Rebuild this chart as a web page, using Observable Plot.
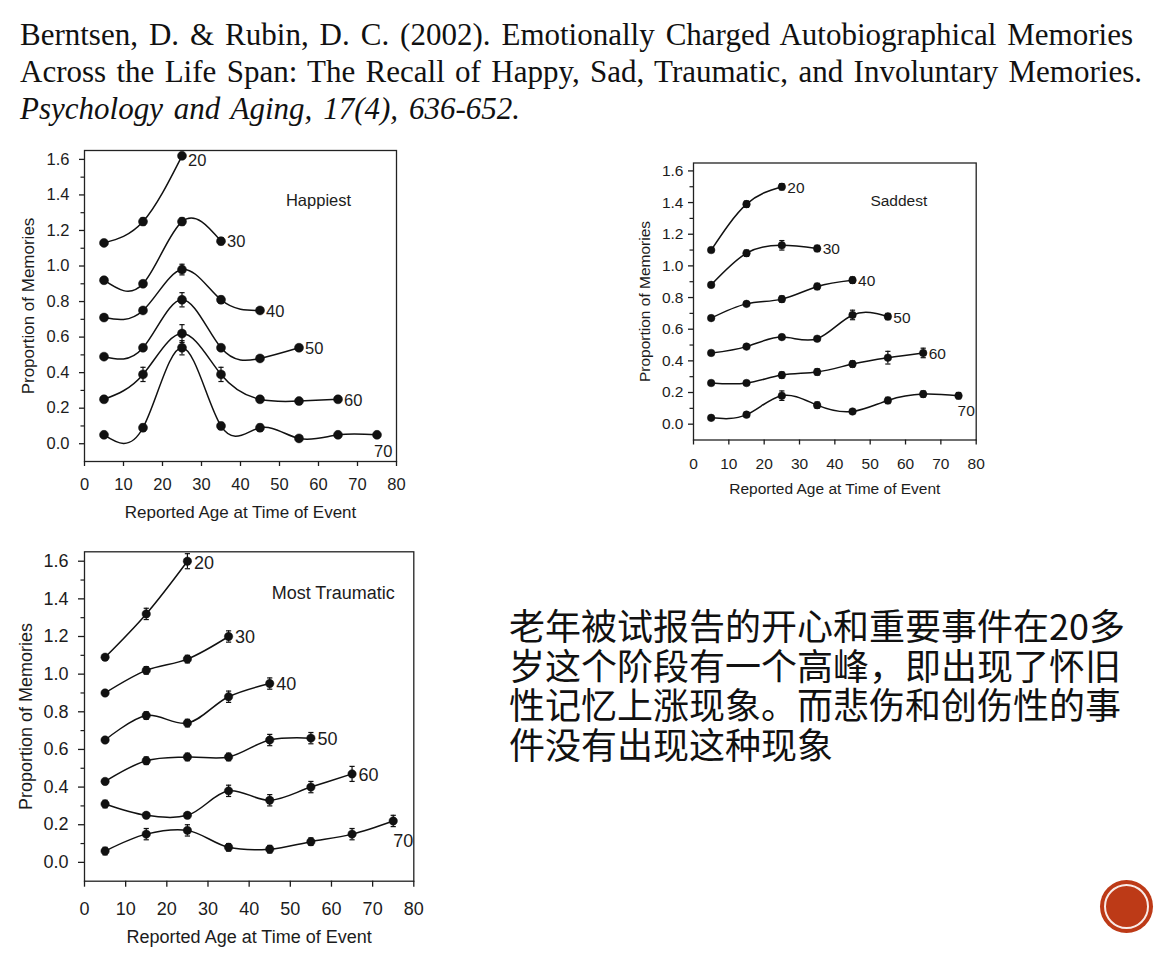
<!DOCTYPE html>
<html><head><meta charset="utf-8">
<script src="https://cdn.jsdelivr.net/npm/d3@7"></script>
<script src="https://cdn.jsdelivr.net/npm/@observablehq/plot@0.6"></script>
<style>
body{margin:0;background:#fff;}
#page{position:relative;width:1156px;height:960px;overflow:hidden;background:#fff;}
.ref{position:absolute;left:20px;font-family:"Liberation Serif","Times New Roman",serif;font-size:31px;line-height:37px;color:#111;white-space:nowrap;}
.cn{position:absolute;left:509px;font-family:"Noto Sans CJK SC",sans-serif;font-size:36px;line-height:39.5px;color:#111;white-space:nowrap;}
.panel{position:absolute;}
.panel svg{display:block;overflow:visible;}
#badge{position:absolute;left:1100px;top:880px;width:53px;height:53px;border-radius:50%;background:#bd3a17;}
#badge div{position:absolute;left:4px;top:4px;width:41px;height:41px;border-radius:50%;border:2px solid rgba(255,255,255,0.9);}
</style></head>
<body><div id="page">
<div class="ref" id="r1" style="top:16px">Berntsen, D. &amp; Rubin, D. C. (2002). Emotionally Charged Autobiographical Memories</div>
<div class="ref" id="r2" style="top:53px">Across the Life Span: The Recall of Happy, Sad, Traumatic, and Involuntary Memories.</div>
<div class="ref" id="r3" style="top:90px;font-style:italic">Psychology and Aging, 17(4), 636-652.</div>
<div class="panel" id="p1" style="left:0px;top:140px"></div>
<div class="panel" id="p2" style="left:620px;top:150px"></div>
<div class="panel" id="p3" style="left:0px;top:540px"></div>
<div class="cn" style="top:605px">老年被试报告的开心和重要事件在20多</div>
<div class="cn" style="top:644.5px">岁这个阶段有一个高峰，即出现了怀旧</div>
<div class="cn" style="top:684px">性记忆上涨现象。而悲伤和创伤性的事</div>
<div class="cn" style="top:723.5px">件没有出现这种现象</div>
<div id="badge"><div></div></div>
</div>
<script>
// ---- data ----
const ages = [5, 15, 25, 35, 45, 55, 65, 75];
const cohorts = ["20", "30", "40", "50", "60", "70"];
const xTicks = [0, 10, 20, 30, 40, 50, 60, 70, 80];
const yTicks = [0, 0.2, 0.4, 0.6, 0.8, 1.0, 1.2, 1.4, 1.6];
const yMinorTicks = [0.1, 0.3, 0.5, 0.7, 0.9, 1.1, 1.3, 1.5];

const happiestMeans = [
  [1.13, 1.25, 1.62],
  [0.92, 0.90, 1.25, 1.14],
  [0.71, 0.75, 0.98, 0.81, 0.75],
  [0.49, 0.54, 0.81, 0.54, 0.48, 0.54],
  [0.25, 0.39, 0.62, 0.39, 0.25, 0.24, 0.25],
  [0.05, 0.09, 0.54, 0.10, 0.09, 0.03, 0.05, 0.05]
];
const happiestErrors = [
  [0.01, 0.02, 0.01],
  [0.01, 0.01, 0.02, 0.02],
  [0.01, 0.01, 0.03, 0.02, 0.01],
  [0.01, 0.01, 0.04, 0.01, 0.01, 0.01],
  [0.01, 0.04, 0.05, 0.04, 0.01, 0.01, 0.01],
  [0.01, 0.02, 0.04, 0.02, 0.02, 0.01, 0.01, 0.01]
];
const saddestMeans = [
  [1.10, 1.39, 1.50],
  [0.88, 1.08, 1.13, 1.11],
  [0.67, 0.76, 0.79, 0.87, 0.91],
  [0.45, 0.49, 0.55, 0.54, 0.69, 0.68],
  [0.26, 0.26, 0.31, 0.33, 0.38, 0.42, 0.45],
  [0.04, 0.06, 0.18, 0.12, 0.08, 0.15, 0.19, 0.18]
];
const saddestErrors = [
  [0.01, 0.02, 0.02],
  [0.01, 0.02, 0.03, 0.02],
  [0.01, 0.01, 0.02, 0.02, 0.02],
  [0.01, 0.01, 0.01, 0.01, 0.03, 0.02],
  [0.01, 0.01, 0.02, 0.02, 0.02, 0.04, 0.03],
  [0.01, 0.01, 0.03, 0.02, 0.01, 0.02, 0.02, 0.02]
];
const traumaticMeans = [
  [1.09, 1.32, 1.60],
  [0.90, 1.02, 1.08, 1.20],
  [0.65, 0.78, 0.74, 0.88, 0.95],
  [0.43, 0.54, 0.56, 0.56, 0.65, 0.66],
  [0.31, 0.25, 0.25, 0.38, 0.33, 0.40, 0.47],
  [0.06, 0.15, 0.17, 0.08, 0.07, 0.11, 0.15, 0.22]
];
const traumaticErrors = [
  [0.01, 0.03, 0.04],
  [0.01, 0.02, 0.02, 0.03],
  [0.01, 0.02, 0.02, 0.03, 0.03],
  [0.01, 0.02, 0.02, 0.02, 0.03, 0.03],
  [0.02, 0.01, 0.01, 0.03, 0.03, 0.03, 0.04],
  [0.02, 0.03, 0.03, 0.02, 0.02, 0.02, 0.03, 0.03]
];
const yLabel = "Proportion of Memories";
const xLabel = "Reported Age at Time of Event";

// ---- layout ----
function makePanel(title, means, errors, L) {
  const rows = [];
  means.forEach((vals, i) => vals.forEach((v, j) =>
    rows.push({cohort: cohorts[i], age: ages[j], y: v, e: errors[i][j]})));
  const last = cohorts.map(c => rows.filter(r => r.cohort === c).at(-1));
  const capW = 2.6 * 80 / (L.w - L.ml - L.mr);
  const ink = "#111";
  return Plot.plot({
    width: L.w, height: L.h,
    marginLeft: L.ml, marginRight: L.mr, marginTop: L.mt, marginBottom: L.mb,
    x: {domain: [0, 80]},
    y: {domain: [-0.1, 1.65]},
    style: {fontFamily: "'Liberation Sans', Arial, sans-serif", fontSize: L.fs + "px", color: "#1c1c1c", background: "transparent", overflow: "visible"},
    marks: [
      Plot.frame({stroke: "#222", strokeWidth: 1.3}),
      Plot.axisX({ticks: xTicks, tickSize: L.ts, tickPadding: L.xpad, tickFormat: d => String(d), label: null, strokeWidth: 1.3}),
      Plot.axisY({ticks: yMinorTicks, tickSize: 3.5, tickFormat: () => "", label: null, strokeWidth: 1.2}),
      Plot.axisY({ticks: yTicks, tickSize: L.ts, tickPadding: L.ypad, tickFormat: d => d.toFixed(1), label: null, strokeWidth: 1.3}),
      Plot.line(rows, {x: "age", y: "y", z: "cohort", curve: L.curve, stroke: ink, strokeWidth: 1.5}),
      Plot.ruleX(rows, {x: "age", y1: d => d.y - d.e, y2: d => d.y + d.e, stroke: ink, strokeWidth: 1.2}),
      Plot.link(rows, {x1: d => d.age - capW, x2: d => d.age + capW, y1: d => d.y + d.e, y2: d => d.y + d.e, stroke: ink, strokeWidth: 1.2}),
      Plot.link(rows, {x1: d => d.age - capW, x2: d => d.age + capW, y1: d => d.y - d.e, y2: d => d.y - d.e, stroke: ink, strokeWidth: 1.2}),
      Plot.dot(rows, {x: "age", y: "y", r: L.r, fill: ink, stroke: ink, strokeWidth: 0.5}),
      Plot.text(last.filter(d => d.cohort === "20"), {x: "age", y: "y", text: "cohort", textAnchor: "start", dx: L.ldx, dy: L.ldy20, fontSize: L.fs}),
      Plot.text(last.filter(d => d.cohort !== "20" && d.cohort !== "70"), {x: "age", y: "y", text: "cohort", textAnchor: "start", dx: L.ldx, dy: 1, fontSize: L.fs}),
      Plot.text(last.filter(d => d.cohort === "70"), {x: "age", y: "y", text: "cohort", textAnchor: "start", dx: L.l70x, dy: L.l70y, fontSize: L.fs}),
      Plot.text([title], {frameAnchor: "top", lineAnchor: "middle", textAnchor: "middle", dx: L.tdx, dy: L.tdy, fontSize: L.tfs}),
      Plot.text([yLabel], {frameAnchor: "left", rotate: -90, textAnchor: "middle", lineAnchor: "middle", dx: L.ylx, fontSize: L.lfs}),
      Plot.text([xLabel], {frameAnchor: "bottom", textAnchor: "middle", lineAnchor: "middle", dy: L.xly, fontSize: L.lfs})
    ]
  });
}

document.getElementById("p1").append(makePanel("Happiest", happiestMeans, happiestErrors, {
  w: 420, h: 390, ml: 84, mr: 24, mt: 10, mb: 69, fs: 16.5, lfs: 17, tfs: 16.5,
  ts: 5, xpad: 12, ypad: 10, ylx: -56, xly: 51, r: 4.5, curve: "natural",
  ldx: 6, ldy20: 5, l70x: -3, l70y: 17, tdx: 78, tdy: 50
}));
document.getElementById("p2").append(makePanel("Saddest", saddestMeans, saddestErrors, {
  w: 370, h: 350, ml: 73, mr: 14.3, mt: 12.5, mb: 60.5, fs: 15.5, lfs: 15.5, tfs: 15.5,
  ts: 5, xpad: 13, ypad: 5, ylx: -48, xly: 49.5, r: 3.8, curve: "natural",
  ldx: 5.5, ldy20: 1, l70x: -1, l70y: 15, tdx: 64, tdy: 38.5
}));
document.getElementById("p3").append(makePanel("Most Traumatic", traumaticMeans, traumaticErrors, {
  w: 440, h: 410, ml: 84, mr: 26.7, mt: 11.3, mb: 69.3, fs: 18, lfs: 18, tfs: 18,
  ts: 6, xpad: 15, ypad: 10, ylx: -58, xly: 56, r: 4.2, curve: "catmull-rom",
  ldx: 6.5, ldy20: 2, l70x: 0, l70y: 20, tdx: 84, tdy: 41
}));

// fit reference lines to their widths in the reference slide
[["r1", 1113], ["r2", 1122], ["r3", 500]].forEach(([id, target]) => {
  const el = document.getElementById(id);
  const w = el.getBoundingClientRect().width;
  const gaps = (el.textContent.match(/ /g) || []).length;
  if (gaps) el.style.wordSpacing = ((target - w) / gaps) + "px";
});
</script>
</body></html>
